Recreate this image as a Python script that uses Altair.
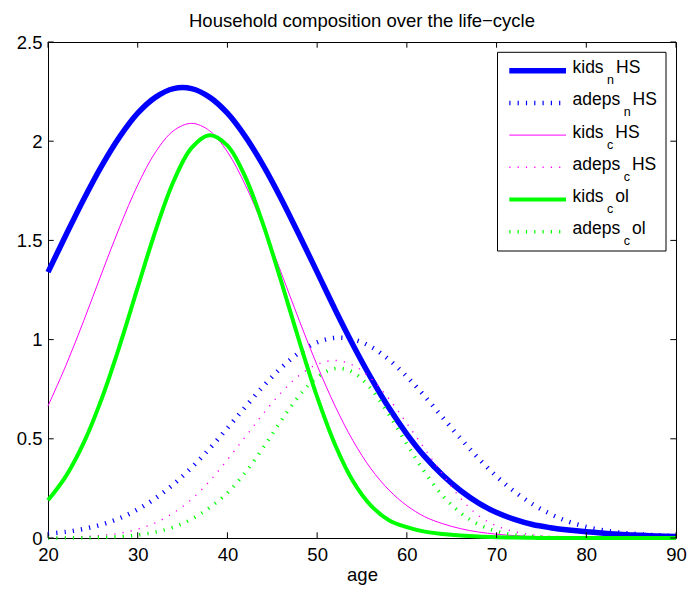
import altair as alt
import pandas as pd

# ---------------- data ----------------
AGES = list(range(20, 91, 2))

KIDS_NHS = [1.34, 1.527, 1.709, 1.877, 2.023, 2.141, 2.222, 2.265, 2.265, 2.222,
            2.141, 2.023, 1.877, 1.709, 1.527, 1.34, 1.152, 0.973, 0.807, 0.656,
            0.524, 0.41, 0.316, 0.238, 0.176, 0.128, 0.094, 0.068, 0.052, 0.040,
            0.031, 0.024, 0.018, 0.014, 0.010, 0.008]
ADEPS_NHS = [0.022, 0.031, 0.046, 0.068, 0.100, 0.144, 0.201, 0.271, 0.355, 0.450,
             0.554, 0.661, 0.765, 0.858, 0.934, 0.986, 1.009, 1.001, 0.964, 0.899,
             0.814, 0.714, 0.607, 0.501, 0.401, 0.311, 0.234, 0.171, 0.121, 0.083,
             0.056, 0.038, 0.026, 0.019, 0.014, 0.010]
KIDS_CHS = [0.665, 0.870, 1.097, 1.336, 1.569, 1.779, 1.946, 2.053, 2.09, 2.053,
            1.946, 1.779, 1.569, 1.336, 1.097, 0.870, 0.665, 0.490, 0.349, 0.242,
            0.163, 0.107, 0.072, 0.047, 0.030, 0.019, 0.012, 0.007, 0.004, 0.002,
            0.001, 0.001, 0.0, 0.0, 0.0, 0.0]
ADEPS_CHS = [0.002, 0.003, 0.007, 0.013, 0.024, 0.045, 0.077, 0.127, 0.195, 0.286,
             0.395, 0.510, 0.627, 0.733, 0.819, 0.875, 0.895, 0.871, 0.804, 0.702,
             0.578, 0.449, 0.320, 0.200, 0.112, 0.061, 0.032, 0.016, 0.007, 0.003,
             0.001, 0.0, 0.0, 0.0, 0.0, 0.0]
KIDS_COL = [0.19, 0.312, 0.482, 0.704, 0.971, 1.263, 1.551, 1.798, 1.966, 2.03,
            1.978, 1.819, 1.578, 1.293, 0.993, 0.711, 0.470, 0.286, 0.163, 0.09,
            0.055, 0.032, 0.02, 0.012, 0.007, 0.004, 0.002, 0.001, 0.0, 0.0,
            0.0, 0.0, 0.0, 0.0, 0.0, 0.0]
ADEPS_COL = [0.0, 0.001, 0.001, 0.003, 0.007, 0.015, 0.030, 0.055, 0.095, 0.153,
             0.227, 0.331, 0.456, 0.592, 0.717, 0.810, 0.854, 0.835, 0.752, 0.622,
             0.473, 0.331, 0.213, 0.126, 0.068, 0.034, 0.016, 0.007, 0.003, 0.001,
             0.0, 0.0, 0.0, 0.0, 0.0, 0.0]

SERIES = ["kids_nHS", "adeps_nHS", "kids_cHS", "adeps_cHS", "kids_col", "adeps_col"]
VALUES = [KIDS_NHS, ADEPS_NHS, KIDS_CHS, ADEPS_CHS, KIDS_COL, ADEPS_COL]

# legend label pieces: main text, subscript, main text
LEG_MAIN1 = ["kids", "adeps", "kids", "adeps", "kids", "adeps"]
LEG_SUB = ["n", "n", "c", "c", "c", "c"]
LEG_MAIN2 = ["HS", "HS", "HS", "HS", "ol", "ol"]

XTICKS = [20, 30, 40, 50, 60, 70, 80, 90]
YTICKS = [0, 0.5, 1, 1.5, 2, 2.5]
TITLE = "Household composition over the life\u2212cycle"
XLABEL = "age"

# ---------------- styles ----------------
COLORS = ["#0000FF", "#0000FF", "#FF00FF", "#FF00FF", "#00FF00", "#00FF00"]
WIDTHS = [5.5, 4.5, 1.0, 1.4, 4.0, 3.5]
DOTTED = [False, True, False, True, False, True]
DASH = [1.2, 7.1]

W, H = 628, 496
FONT = "Liberation Sans, Arial, Helvetica, sans-serif"
FS = 18.5        # title / axis text
FS_LEG = 17.5    # legend text
FS_SUB = 12.5    # legend subscripts

# Arial advance widths (per 1000 em) for legend layout
AW = {"a": 556, "c": 500, "d": 556, "e": 556, "H": 722, "i": 222, "k": 500,
      "l": 222, "n": 556, "o": 556, "p": 556, "S": 667, "s": 500}


def tw(s, size):
    return sum(AW[ch] for ch in s) * size / 1000.0


rows = []
for name, vals in zip(SERIES, VALUES):
    for a, v in zip(AGES, vals):
        rows.append({"series": name, "age": a, "value": v})
df = pd.DataFrame(rows)

x_scale = alt.Scale(domain=[20, 90], nice=False, zero=False)
y_scale = alt.Scale(domain=[0, 2.5], nice=False, zero=False)

x_axis = alt.Axis(values=XTICKS, title=XLABEL, grid=False, domain=False, ticks=False,
                  labelPadding=7, titlePadding=2, labelFont=FONT, titleFont=FONT,
                  labelFontSize=FS, titleFontSize=FS, labelColor="black",
                  titleColor="black", titleFontWeight="normal", labelFlush=False,
                  labelOverlap=False)
y_axis = alt.Axis(values=YTICKS, title="", format="~g", grid=False, domain=False,
                  ticks=False, labelPadding=6, labelFont=FONT, labelFontSize=FS,
                  labelColor="black", labelFlush=False, labelOverlap=False)

X = alt.X("age:Q", scale=x_scale, axis=x_axis)
Y = alt.Y("value:Q", scale=y_scale, axis=y_axis)

one = pd.DataFrame({"k": [0]})
layers = []

for i, name in enumerate(SERIES):
    props = dict(color=COLORS[i], strokeWidth=WIDTHS[i], interpolate="catmull-rom")
    if DOTTED[i]:
        props.update(strokeDash=DASH, strokeCap="butt")
    layers.append(
        alt.Chart(df).transform_filter(alt.datum.series == name)
        .mark_line(**props).encode(x=X, y=Y)
    )

# inward ticks (MATLAB style) on all four sides
TL = 5.7
xt = pd.DataFrame({"age": XTICKS})
yt = pd.DataFrame({"value": YTICKS})
layers.append(alt.Chart(xt).mark_rule(color="black", strokeWidth=1).encode(
    x=X, y=alt.value(H), y2=alt.value(H - TL)))
layers.append(alt.Chart(xt).mark_rule(color="black", strokeWidth=1).encode(
    x=X, y=alt.value(0), y2=alt.value(TL)))
layers.append(alt.Chart(yt).mark_rule(color="black", strokeWidth=1).encode(
    y=Y, x=alt.value(0), x2=alt.value(TL)))
layers.append(alt.Chart(yt).mark_rule(color="black", strokeWidth=1).encode(
    y=Y, x=alt.value(W), x2=alt.value(W - TL)))

# title as text above the plot area
layers.append(alt.Chart(one).mark_text(
    text=TITLE, align="center", baseline="alphabetic", font=FONT, fontSize=FS,
    color="black").encode(x=alt.value(W / 2), y=alt.value(-15)))

# legend box
LX0, LX1, LY0, LY1 = 449.5, 618.0, 10.3, 209.0
layers.append(alt.Chart(one).mark_rect(fill="white", stroke="black", strokeWidth=1).encode(
    x=alt.value(LX0), x2=alt.value(LX1), y=alt.value(LY0), y2=alt.value(LY1)))

ROW0, STEP = 28.7, 32.2
SX0, SX1 = 461.3, 518.0
TX = 524.5
for i in range(len(SERIES)):
    ry = ROW0 + i * STEP
    props = dict(color=COLORS[i], strokeWidth=WIDTHS[i])
    if DOTTED[i]:
        props.update(strokeDash=DASH, strokeCap="butt")
    layers.append(alt.Chart(one).mark_rule(**props).encode(
        x=alt.value(SX0), x2=alt.value(SX1), y=alt.value(ry)))
    x1 = TX
    x2 = x1 + tw(LEG_MAIN1[i], FS_LEG) + 3.5
    x3 = x2 + tw(LEG_SUB[i], FS_SUB) + 2.0
    layers.append(alt.Chart(one).mark_text(
        text=LEG_MAIN1[i], align="left", baseline="alphabetic", font=FONT,
        fontSize=FS_LEG, color="black").encode(x=alt.value(x1), y=alt.value(ry + 2.5)))
    layers.append(alt.Chart(one).mark_text(
        text=LEG_SUB[i], align="left", baseline="alphabetic", font=FONT,
        fontSize=FS_SUB, color="black").encode(x=alt.value(x2), y=alt.value(ry + 13.5)))
    layers.append(alt.Chart(one).mark_text(
        text=LEG_MAIN2[i], align="left", baseline="alphabetic", font=FONT,
        fontSize=FS_LEG, color="black").encode(x=alt.value(x3), y=alt.value(ry + 2.5)))

chart = alt.layer(*layers).properties(
    width=W, height=H,
    autosize=alt.AutoSizeParams(type="none"),
    padding={"left": 48, "top": 42, "right": 12, "bottom": 54},
).configure_view(stroke="black", strokeWidth=1)

chart.save("out.html", embed_options={"renderer": "svg", "actions": False})
